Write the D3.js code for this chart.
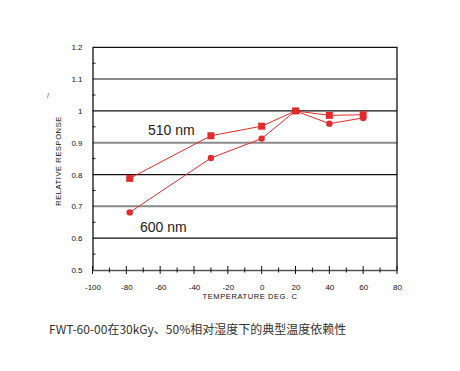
<!DOCTYPE html>
<html>
<head>
<meta charset="utf-8">
<script src="https://cdn.jsdelivr.net/npm/d3@7"></script>
<style>
  body { margin: 0; background: #fff; }
  svg { display: block; }
</style>
</head>
<body>
<svg id="chart" width="460" height="371"></svg>
<script>
// data
const temps510 = [-78, -30, 0, 20, 40, 60];
const resp510 = [0.788, 0.922, 0.952, 1.0, 0.986, 0.988];
const temps600 = [-78, -30, 0, 20, 40, 60];
const resp600 = [0.681, 0.852, 0.913, 1.0, 0.960, 0.978];
const xTicks = [-100, -80, -60, -40, -20, 0, 20, 40, 60, 80];
const yTicks = [0.5, 0.6, 0.7, 0.8, 0.9, 1.0, 1.1, 1.2];
const yTickLabels = ["0.5", "0.6", "0.7", "0.8", "0.9", "1", "1.1", "1.2"];
const grayLines = [0.7, 0.9, 1.1];
const blackLines = [0.6, 0.8, 1.0];

const svg = d3.select("#chart");
const red = "#e32b2b";

const x = d3.scaleLinear().domain([-100, 80]).range([92.5, 397]);
const y = d3.scaleLinear().domain([0.5, 1.2]).range([270, 47.3]);

const tickFont = "Liberation Sans, Arial, sans-serif";

// gridlines
svg.selectAll(".gg").data(grayLines).enter().append("line")
  .attr("x1", x(-100)).attr("x2", x(80))
  .attr("y1", d => y(d)).attr("y2", d => y(d))
  .attr("stroke", "#8a8a8a").attr("stroke-width", 2);
svg.selectAll(".bg").data(blackLines).enter().append("line")
  .attr("x1", x(-100)).attr("x2", x(80))
  .attr("y1", d => y(d)).attr("y2", d => y(d))
  .attr("stroke", "#111").attr("stroke-width", 1.3);

// top + right border
svg.append("path")
  .attr("d", `M${x(-100)},${y(1.2)}H${x(80)}V${y(0.5)}`)
  .attr("fill", "none").attr("stroke", "#111").attr("stroke-width", 1.3);

// y axis
const yAxis = d3.axisLeft(y).tickValues(yTicks)
  .tickFormat((d, i) => yTickLabels[i]).tickSize(0).tickPadding(10);
const gy = svg.append("g").attr("transform", `translate(${x(-100)},0)`).call(yAxis);
gy.select(".domain").attr("stroke", "#111").attr("stroke-width", 1.3);
gy.selectAll("text").attr("font-family", tickFont).attr("font-size", 8).attr("fill", "#111");
// minor y ticks
svg.selectAll(".ym").data(d3.range(0.55, 1.2, 0.1)).enter().append("line")
  .attr("x1", x(-100)).attr("x2", x(-100) + 3)
  .attr("y1", d => y(d)).attr("y2", d => y(d))
  .attr("stroke", "#111");

// x axis
const xAxis = d3.axisBottom(x).tickValues(xTicks)
  .tickFormat(d => String(d)).tickSize(0).tickPadding(14);
const gx = svg.append("g").attr("transform", `translate(0,${y(0.5)})`).call(xAxis);
gx.select(".domain").attr("stroke", "#555").attr("stroke-width", 1.5);
gx.selectAll("text").attr("font-family", tickFont).attr("font-size", 8).attr("fill", "#111");
svg.selectAll(".xt").data(xTicks).enter().append("line")
  .attr("x1", d => x(d)).attr("x2", d => x(d))
  .attr("y1", y(0.5) - 4).attr("y2", y(0.5) + 4)
  .attr("stroke", "#111");
svg.selectAll(".xm").data(d3.range(-90, 80, 20)).enter().append("line")
  .attr("x1", d => x(d)).attr("x2", d => x(d))
  .attr("y1", y(0.5) - 2.5).attr("y2", y(0.5) + 2.5)
  .attr("stroke", "#111");

// axis titles
svg.append("text")
  .attr("x", 250).attr("y", 299)
  .attr("text-anchor", "middle")
  .attr("font-family", tickFont).attr("font-size", 7.5)
  .attr("letter-spacing", 0.6).attr("fill", "#111")
  .text("TEMPERATURE DEG. C");
svg.append("text")
  .attr("transform", "translate(61,161) rotate(-90)")
  .attr("text-anchor", "middle")
  .attr("font-family", tickFont).attr("font-size", 7.5)
  .attr("letter-spacing", 0.6).attr("fill", "#111")
  .text("RELATIVE RESPONSE");
svg.append("text")
  .attr("x", 47).attr("y", 98)
  .attr("font-family", tickFont).attr("font-size", 7).attr("fill", "#333")
  .text("/");

// series
const line = d3.line().x(d => x(d[0])).y(d => y(d[1]));
const s510 = temps510.map((t, i) => [t, resp510[i]]);
const s600 = temps600.map((t, i) => [t, resp600[i]]);

[s510, s600].forEach(s => {
  svg.append("path").datum(s).attr("d", line)
    .attr("fill", "none").attr("stroke", red).attr("stroke-width", 1);
});

svg.selectAll(".sq").data(s510).enter().append("rect")
  .attr("x", d => x(d[0]) - 3.5).attr("y", d => y(d[1]) - 3.5)
  .attr("width", 7).attr("height", 7).attr("fill", red);
svg.selectAll(".ci").data(s600).enter().append("circle")
  .attr("cx", d => x(d[0])).attr("cy", d => y(d[1]))
  .attr("r", 3.2).attr("fill", red);

// series labels
svg.append("text").attr("x", 148).attr("y", 135)
  .attr("font-family", tickFont).attr("font-size", 14).attr("fill", "#222")
  .text("510 nm");
svg.append("text").attr("x", 140).attr("y", 232)
  .attr("font-family", tickFont).attr("font-size", 14).attr("fill", "#222")
  .text("600 nm");

// caption
svg.append("text").attr("x", 49).attr("y", 334)
  .attr("font-family", "'Noto Sans CJK SC', sans-serif").attr("font-size", 12).attr("fill", "#333")
  .text("FWT-60-00在30kGy、50%相对湿度下的典型温度依赖性");
</script>
</body>
</html>
